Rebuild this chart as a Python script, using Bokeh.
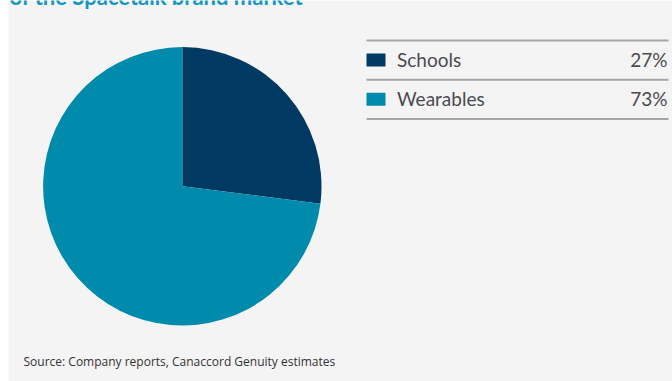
import numpy as np
from bokeh.plotting import figure
from bokeh.models import Range1d, ColumnDataSource
from bokeh.core.properties import value
from bokeh.embed import file_html
from bokeh.resources import INLINE

# ---- data ----
categories = ["Schools", "Wearables"]
shares = [27, 73]
colors = ["#003a63", "#008bad"]
title_text = "of the Spacetalk brand market"
source_text = "Source: Company reports, Canaccord Genuity estimates"

W, H = 672, 381

p = figure(width=W, height=H, output_backend="svg", toolbar_location=None,
           x_range=Range1d(0, W), y_range=Range1d(0, H), min_border=0,
           background_fill_color="white", border_fill_color="white")
p.axis.visible = False
p.grid.visible = False
p.outline_line_color = None

def Y(y):
    return H - y

# panel background
p.quad(left=8, right=W, bottom=0, top=H, fill_color="#f4f4f4", line_color=None)

# title (clipped at top, as in the reference)
p.text(x=[9], y=[Y(-4)], text=[title_text], text_font=value("Lato"),
       text_font_size="22px", text_font_style="bold", text_color="#1496c0",
       text_baseline="alphabetic")

# pie
vals = np.array(shares, dtype=float)
frac = vals / vals.sum()
cum = np.concatenate([[0], np.cumsum(frac)])
start = np.pi / 2 - cum[:-1] * 2 * np.pi
end = np.pi / 2 - cum[1:] * 2 * np.pi
src = ColumnDataSource(dict(start=start, end=end, color=colors, cat=categories))
cx, cy, r = 181.8, Y(185.8), 139.2
p.wedge(x=cx, y=cy, radius=r, start_angle="start", end_angle="end",
        direction="clock", fill_color="color", line_color=None, source=src)

# legend table
row_h = 39.2
top_line = 40.0
lx0, lx1 = 366, 668
line_ys = [Y(top_line + i * row_h) for i in range(len(categories) + 1)]
p.segment(x0=[lx0] * len(line_ys), x1=[lx1] * len(line_ys), y0=line_ys, y1=line_ys,
          line_color="#a6a6a6", line_width=2)
row_c = [Y(top_line + (i + 0.5) * row_h) for i in range(len(categories))]
p.rect(x=[375.5] * len(categories), y=row_c, width=19, height=13,
       fill_color=colors, line_color=None)
p.text(x=[396.5] * len(categories), y=[c + 0.5 for c in row_c], text=categories,
       text_font=value("Lato"), text_font_size="19px", text_color="#4a4a4f",
       text_baseline="middle", text_align="left")
p.text(x=[667] * len(categories), y=[c + 0.5 for c in row_c], text=[f"{v}%" for v in shares],
       text_font=value("Lato"), text_font_size="19px", text_color="#4a4a4f",
       text_baseline="middle", text_align="right")

# source
p.text(x=[23], y=[Y(361)], text=[source_text], text_font=value("Open Sans"),
       text_font_size="12px", text_color="#333333", text_baseline="middle")

open("out.html", "w").write(file_html(p, INLINE))
